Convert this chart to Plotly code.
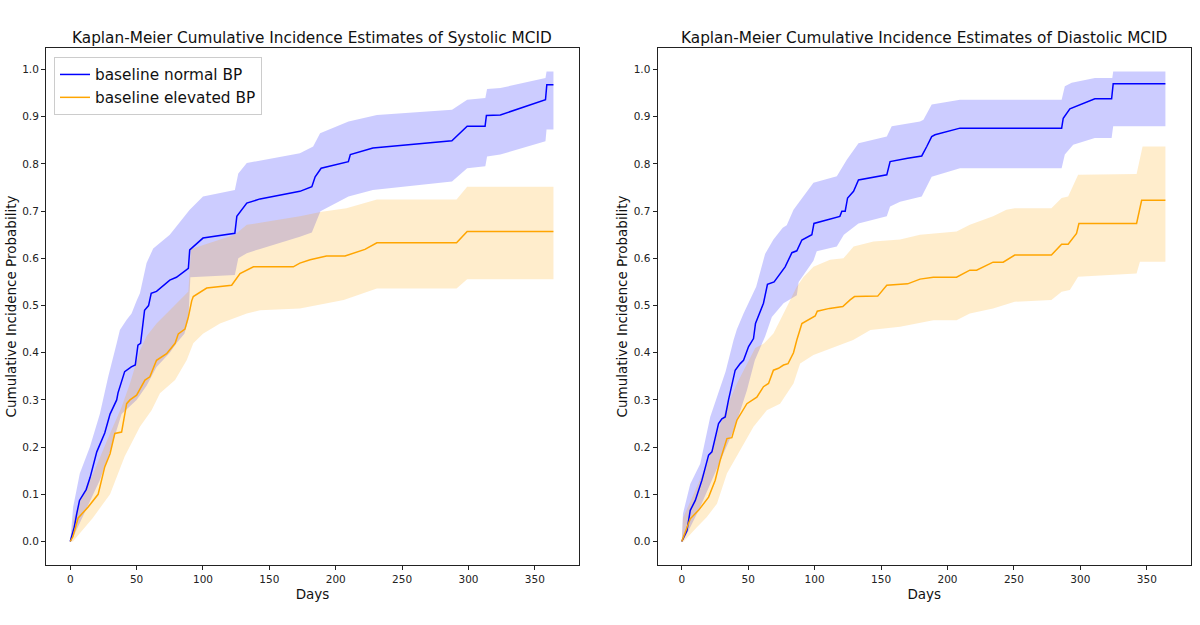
import plotly.graph_objects as go

# ---------------- Systolic (left) ----------------
sys_norm_days = [0, 3, 5, 7, 12, 15, 20, 26, 30, 35, 36, 39, 41, 46, 49, 51, 53, 56, 59, 61, 65, 75, 80, 89, 90, 100,
                 124, 125.5, 133, 143, 173, 182, 184.5, 189, 209.5, 211, 228, 287.5, 299, 312.5, 313.5, 324, 358, 359, 364]
sys_norm_est = [0, 0.03, 0.06, 0.087, 0.11, 0.136, 0.19, 0.23, 0.27, 0.30, 0.315, 0.34, 0.36, 0.37, 0.374, 0.416, 0.42,
                0.49, 0.50, 0.526, 0.53, 0.554, 0.56, 0.579, 0.618, 0.643, 0.653, 0.689, 0.717, 0.726, 0.742, 0.752,
                0.773, 0.791, 0.805, 0.82, 0.834, 0.849, 0.88, 0.88, 0.903, 0.904, 0.936, 0.968, 0.968]
sys_norm_up_days = [0, 2.2, 7.2, 14.8, 22.3, 28.6, 35, 37.4, 42.5, 46.2, 50, 52.5, 57.5, 62.5, 75, 90, 100, 124, 126.6,
                    133, 173, 183, 188.2, 209.6, 231, 287.6, 299, 312.7, 314, 324, 358, 358.8, 364]
sys_norm_up = [0, 0.073, 0.144, 0.2, 0.27, 0.349, 0.42, 0.448, 0.47, 0.483, 0.51, 0.526, 0.59, 0.621, 0.65, 0.703,
               0.731, 0.745, 0.78, 0.802, 0.823, 0.837, 0.865, 0.89, 0.904, 0.915, 0.936, 0.94, 0.959, 0.961, 0.982,
               0.996, 0.996]
sys_norm_lo_days = [0, 3.5, 7, 12.3, 22.3, 29.9, 38.7, 50, 57.5, 65, 75, 80, 86, 89, 90.5, 124, 126.6, 133, 143, 173,
                    182, 188.5, 209.6, 228, 287.6, 299, 312.7, 314, 324, 358, 358.8, 364]
sys_norm_lo = [0, 0.017, 0.04, 0.07, 0.13, 0.19, 0.27, 0.30, 0.33, 0.37, 0.40, 0.42, 0.44, 0.47, 0.56, 0.565, 0.60,
               0.611, 0.62, 0.646, 0.655, 0.70, 0.731, 0.745, 0.763, 0.791, 0.795, 0.816, 0.82, 0.848, 0.873, 0.873]

sys_elev_days = [0, 2, 6, 13.5, 21, 26, 30, 33.6, 38.7, 42.5, 45, 50, 56.3, 60, 65, 72.6, 79, 81.4, 86.4, 89, 91.5,
                 92.7, 102.8, 121.6, 127.9, 138, 168, 173, 180.7, 193, 207, 222, 231, 291, 299, 364]
sys_elev_est = [0, 0.01, 0.05, 0.073, 0.1, 0.158, 0.186, 0.229, 0.232, 0.292, 0.30, 0.31, 0.342, 0.349, 0.384, 0.398,
                0.42, 0.44, 0.45, 0.476, 0.51, 0.519, 0.537, 0.543, 0.568, 0.582, 0.582, 0.59, 0.597, 0.605, 0.605,
                0.619, 0.633, 0.633, 0.657, 0.657]
sys_elev_up_days = [0, 2.2, 8, 17.3, 30, 38.7, 45, 52.5, 57.5, 65, 75, 89, 91, 124, 133, 173, 189.5, 208, 231, 291,
                    299, 364]
sys_elev_up = [0, 0.045, 0.09, 0.144, 0.229, 0.285, 0.335, 0.405, 0.435, 0.462, 0.49, 0.53, 0.62, 0.65, 0.671, 0.689,
               0.699, 0.706, 0.725, 0.725, 0.752, 0.752]
sys_elev_lo_days = [0, 2, 17, 30, 41, 52.5, 61.3, 67.6, 79, 87.7, 92.7, 100, 112.8, 133, 143, 173, 206, 231, 291,
                    299, 364]
sys_elev_lo = [0, 0, 0.05, 0.1, 0.18, 0.243, 0.278, 0.314, 0.342, 0.384, 0.42, 0.44, 0.462, 0.483, 0.49, 0.494,
               0.512, 0.536, 0.536, 0.556, 0.556]

# ---------------- Diastolic (right) ----------------
dia_norm_days = [0, 3.9, 6.4, 10.2, 15.2, 20.2, 22.7, 27.7, 30.2, 32.7, 35.2, 40.2, 44, 46.5, 50.3, 54, 55.5, 61.5,
                 64.5, 69.5, 77.8, 82.9, 86.6, 90.4, 97.9, 99.5, 119, 120.5, 123, 124.8, 129.3, 133, 154.3, 156.8,
                 170, 180.6, 184.4, 188.1, 190.6, 209.4, 285.9, 287.1, 292.1, 310.9, 323.5, 324.7, 364]
dia_norm_est = [0, 0.023, 0.066, 0.087, 0.13, 0.183, 0.19, 0.25, 0.26, 0.264, 0.3, 0.363, 0.377, 0.384, 0.413, 0.43,
                0.462, 0.505, 0.545, 0.55, 0.582, 0.612, 0.616, 0.639, 0.65, 0.674, 0.689, 0.70, 0.70, 0.728, 0.742,
                0.766, 0.777, 0.805, 0.812, 0.817, 0.837, 0.858, 0.862, 0.876, 0.876, 0.897, 0.917, 0.938, 0.938,
                0.97, 0.97]
dia_norm_up_days = [0, 0.9, 6.4, 13.9, 21.4, 28, 33, 39, 41.5, 46.5, 56, 62.8, 69, 76, 79, 84.1, 90.4, 99.1, 116.7,
                    124.2, 133, 154.3, 158, 164.3, 179.3, 181.9, 188.1, 209.4, 285.9, 288.3, 293.4, 310.9, 324, 324.7,
                    364]
dia_norm_up = [0, 0.059, 0.122, 0.165, 0.264, 0.32, 0.36, 0.427, 0.45, 0.483, 0.54, 0.61, 0.64, 0.665, 0.67, 0.703,
               0.728, 0.76, 0.774, 0.809, 0.844, 0.858, 0.88, 0.883, 0.89, 0.894, 0.926, 0.936, 0.936, 0.965, 0.972,
               0.982, 0.982, 0.996, 0.996]
dia_norm_lo_days = [0, 1.4, 6.4, 13.9, 22.7, 30.2, 40.2, 49, 55, 62.8, 67.8, 76.6, 86.6, 88, 94.1, 99.1, 101.6, 116.7,
                    122, 124.2, 133, 154.3, 156.8, 164.3, 180.6, 188.1, 209.4, 285.9, 288.3, 294.6, 310.9, 323.5,
                    324.7, 364]
dia_norm_lo = [0, 0.003, 0.03, 0.073, 0.13, 0.179, 0.243, 0.32, 0.384, 0.435, 0.476, 0.505, 0.522, 0.55, 0.575, 0.595,
               0.615, 0.625, 0.65, 0.655, 0.674, 0.689, 0.71, 0.72, 0.731, 0.773, 0.791, 0.791, 0.82, 0.841, 0.855,
               0.855, 0.88, 0.88]

dia_elev_days = [0, 6.4, 12.6, 20.2, 25.2, 28.9, 34, 37.7, 41.5, 49, 56.5, 61.5, 65.3, 69, 72.8, 76.6, 80, 84.1, 86.6,
                 90.4, 100.4, 102, 111.2, 121.2, 126.7, 130, 147.5, 154.3, 170, 179.3, 189.3, 206.8, 216.8, 221.9,
                 234.3, 241.9, 250.6, 278.2, 285.9, 290.8, 297.1, 298.9, 342.3, 346.1, 364]
dia_elev_est = [0, 0.048, 0.066, 0.094, 0.13, 0.172, 0.218, 0.22, 0.257, 0.292, 0.306, 0.328, 0.335, 0.363, 0.367,
                0.374, 0.377, 0.40, 0.427, 0.462, 0.478, 0.488, 0.494, 0.498, 0.512, 0.519, 0.52, 0.543, 0.546, 0.556,
                0.56, 0.56, 0.575, 0.575, 0.592, 0.592, 0.607, 0.607, 0.63, 0.63, 0.653, 0.674, 0.674, 0.723, 0.723]
dia_elev_up_days = [0, 0.9, 8.9, 18.9, 26.5, 34, 41.5, 49, 55.3, 62, 69, 76.6, 86.6, 91.5, 99.1, 111.6, 121.7, 129.3,
                    144.3, 164.3, 179.3, 206.8, 216.8, 234.3, 244.3, 250.6, 278.2, 285.9, 290.8, 298.3, 342.3, 346.8,
                    364]
dia_elev_up = [0, 0.05, 0.1, 0.165, 0.229, 0.285, 0.335, 0.375, 0.41, 0.42, 0.441, 0.483, 0.54, 0.56, 0.582, 0.597,
               0.6, 0.625, 0.636, 0.64, 0.65, 0.657, 0.671, 0.689, 0.703, 0.706, 0.706, 0.728, 0.731, 0.777, 0.779,
               0.837, 0.837]
dia_elev_lo_days = [0, 1.4, 11.4, 18.9, 26.5, 34, 44, 54, 64, 74, 84.1, 89.1, 99.1, 109.1, 129, 142, 164.3, 189.3,
                    206.8, 216.8, 234.3, 250.6, 278.2, 285.9, 292.1, 298.3, 342.3, 344.8, 364]
dia_elev_lo = [0, 0, 0.03, 0.052, 0.08, 0.144, 0.193, 0.243, 0.278, 0.292, 0.335, 0.377, 0.395, 0.406, 0.427, 0.448,
               0.455, 0.469, 0.469, 0.483, 0.494, 0.508, 0.512, 0.529, 0.533, 0.561, 0.568, 0.593, 0.593]

x_ticks = [0, 50, 100, 150, 200, 250, 300, 350]
y_ticks = [0.0, 0.1, 0.2, 0.3, 0.4, 0.5, 0.6, 0.7, 0.8, 0.9, 1.0]
titles = ["Kaplan-Meier Cumulative Incidence Estimates of Systolic MCID",
          "Kaplan-Meier Cumulative Incidence Estimates of Diastolic MCID"]
names = ["baseline normal BP", "baseline elevated BP"]

BLUE = "blue"
ORANGE = "orange"
BLUE_FILL = "rgba(0,0,255,0.2)"
ORANGE_FILL = "rgba(255,165,0,0.2)"
FONT = "DejaVu Sans"

fig = go.Figure()


def band(ud, uv, ld, lv, color, xa, ya):
    fig.add_trace(go.Scatter(x=list(ud) + list(ld)[::-1], y=list(uv) + list(lv)[::-1],
                             fill="toself", fillcolor=color, mode="lines", line=dict(width=0),
                             hoverinfo="skip", showlegend=False, xaxis=xa, yaxis=ya))


def line(d, v, color, name, legend, xa, ya):
    fig.add_trace(go.Scatter(x=d, y=v, mode="lines", line=dict(color=color, width=1.5),
                             name=name, showlegend=legend, xaxis=xa, yaxis=ya))


# left
band(sys_norm_up_days, sys_norm_up, sys_norm_lo_days, sys_norm_lo, BLUE_FILL, "x", "y")
band(sys_elev_up_days, sys_elev_up, sys_elev_lo_days, sys_elev_lo, ORANGE_FILL, "x", "y")
line(sys_norm_days, sys_norm_est, BLUE, names[0], True, "x", "y")
line(sys_elev_days, sys_elev_est, ORANGE, names[1], True, "x", "y")
# right
band(dia_norm_up_days, dia_norm_up, dia_norm_lo_days, dia_norm_lo, BLUE_FILL, "x2", "y2")
band(dia_elev_up_days, dia_elev_up, dia_elev_lo_days, dia_elev_lo, ORANGE_FILL, "x2", "y2")
line(dia_norm_days, dia_norm_est, BLUE, names[0], False, "x2", "y2")
line(dia_elev_days, dia_elev_est, ORANGE, names[1], False, "x2", "y2")

W, H = 1200, 625
ydom = [1 - 565 / H, 1 - 48 / H]
xdoms = [[46 / W, 579 / W], [657.5 / W, 1191 / W]]

axis_common = dict(showline=True, mirror=True, linecolor="#222", linewidth=1, showgrid=False, zeroline=False,
                   ticks="outside", ticklen=4, tickwidth=1, tickcolor="#222",
                   tickfont=dict(family=FONT, size=10.5, color="#222"), automargin=False)

layout = dict(
    width=W, height=H, margin=dict(l=0, r=0, t=0, b=0),
    paper_bgcolor="white", plot_bgcolor="white",
    font=dict(family=FONT, color="#111"),
    legend=dict(x=54 / W, y=1 - 57 / H, xanchor="left", yanchor="top", bgcolor="rgba(255,255,255,0.85)",
                bordercolor="#cccccc", borderwidth=1, font=dict(family=FONT, size=15.3, color="#111"),
                itemwidth=30, tracegroupgap=0),
    annotations=[],
)
for i, (xa, ya) in enumerate([("xaxis", "yaxis"), ("xaxis2", "yaxis2")]):
    layout[xa] = dict(axis_common, domain=xdoms[i], range=[-18.25, 383.25], tickvals=x_ticks,
                      title=dict(text="Days", font=dict(family=FONT, size=13.5, color="#111"), standoff=5),
                      anchor="y" if i == 0 else "y2")
    layout[ya] = dict(axis_common, domain=ydom, range=[-0.0498, 1.0458], tickvals=y_ticks, tickformat=".1f",
                      title=dict(text="Cumulative Incidence Probability",
                                 font=dict(family=FONT, size=13.5, color="#111"), standoff=2),
                      anchor="x" if i == 0 else "x2")
    layout["annotations"].append(dict(text=titles[i], xref="paper", yref="paper",
                                      x=(xdoms[i][0] + xdoms[i][1]) / 2, y=1 - 38 / H,
                                      xanchor="center", yanchor="middle", showarrow=False,
                                      font=dict(family=FONT, size=15.3, color="#111")))

fig.update_layout(**layout)
fig.write_html("out.html")
